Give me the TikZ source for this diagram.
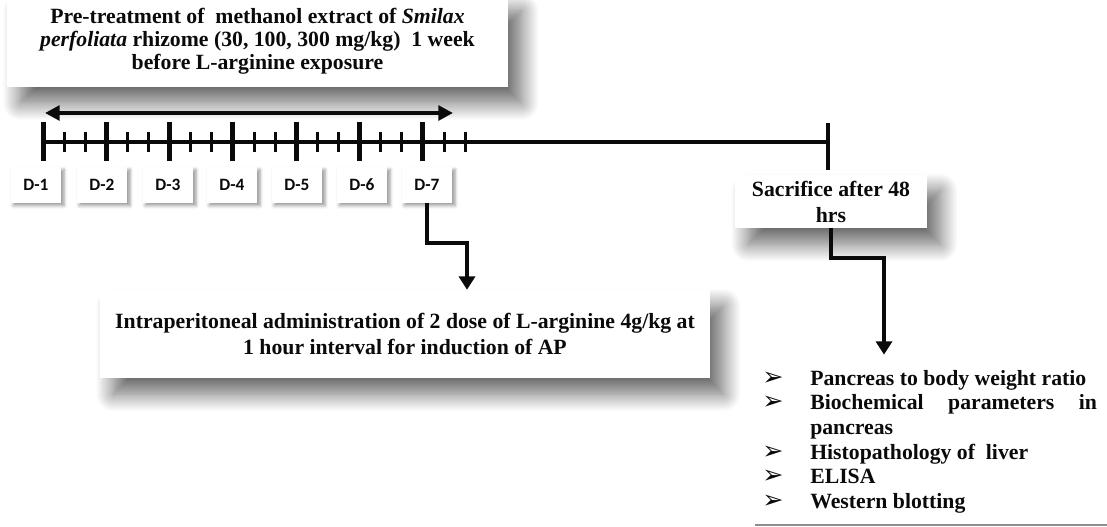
\documentclass[tikz,border=0pt]{standalone}
\usepackage{fontspec}
\setmainfont{Liberation Serif}
\newfontfamily\dayfont{Carlito}
\newfontfamily\symfont{DejaVu Sans}
\usetikzlibrary{arrows.meta,shadows.blur}
\definecolor{Ink}{HTML}{0A0A0A}
\definecolor{Rule}{HTML}{8E8E8E}
\newcommand{\tick}{{\symfont\fontsize{19}{18}\selectfont ➢}}
\begin{document}
\begin{tikzpicture}[x=0.75pt,y=-0.75pt,
    card/.style={fill=white,inner sep=0pt,align=center,text=Ink,font=\fontsize{16.3}{19.5}\selectfont\bfseries,
      blur shadow={shadow xshift=10pt,shadow yshift=-12pt,shadow blur radius=13pt,shadow opacity=60,shadow blur steps=20}},
    daybox/.style={fill=white,minimum width=38pt,minimum height=27pt,inner sep=0pt,text=Ink,font=\dayfont\fontsize{13}{15}\selectfont\bfseries,
      blur shadow={shadow xshift=2pt,shadow yshift=-2pt,shadow blur radius=2.5pt,shadow opacity=40}},
    major/.style={draw=Ink,line width=3.75pt},
    minor/.style={draw=Ink,line width=2.25pt},
    axis/.style={draw=Ink,line width=3pt},
    a/.style={draw=Ink,-{Triangle[length=10pt,width=12pt]},line width=3pt},
    aa/.style={draw=Ink,{Triangle[length=11pt,width=11pt]}-{Triangle[length=11pt,width=11pt]},line width=3pt}]
  \useasboundingbox (0,0) rectangle (1107,527);
  % pre-treatment card and week span
  \node[card,minimum width=376pt,minimum height=69pt,font=\fontsize{16.3}{17.2}\selectfont\bfseries] (pre) at (257.5,41)
    {Pre-treatment of \ methanol extract of \textit{Smilax}\\\textit{perfoliata} rhizome (30, 100, 300 mg/kg) \ 1 week\\before L-arginine exposure};
  \coordinate (wl) at (45,113);
  \coordinate (wr) at (453,113);
  \draw[aa] (wl) -- (wr);
  % timeline
  \coordinate (t0) at (43,142);
  \coordinate (tend) at (828,142);
  \draw[axis] (t0) -- (tend);
  \foreach \i in {0,...,6} {
    \draw[major] (43+63.33*\i,122) -- (43+63.33*\i,161);
    \draw[minor] (43+63.33*\i+21.1,132) -- ++(0,20);
    \draw[minor] (43+63.33*\i+42.2,132) -- ++(0,20);
  }
  \draw[axis] (828,123) -- (828,170);
  \foreach \d/\x in {1/36,2/102,3/168,4/232,5/297,6/362,7/427}
    \node[daybox] (d\d) at (\x,185) {D-\d};
  % outcomes
  \node[card,minimum width=457.5pt,minimum height=66pt] (intra) at (405,334)
    {Intraperitoneal administration of 2 dose of L-arginine 4g/kg at\\1 hour interval for induction of AP};
  \node[card,minimum width=144pt,minimum height=40pt] (sac) at (831,201.5) {Sacrifice after 48\\hrs};
  \node[anchor=north west,inner sep=0pt,text=Ink,font=\fontsize{16.3}{18.4}\selectfont\bfseries] (list) at (762,368) {%
    \begin{tabular}{@{}p{36pt}@{}p{215pt}@{}}
      \tick & Pancreas to body weight ratio\\
      \tick & Biochemical parameters in \mbox{pancreas}\\
      \tick & Histopathology of \ liver\\
      \tick & ELISA\\
      \tick & Western blotting
    \end{tabular}};
  \draw[draw=Rule,line width=1.5pt] (755,525) -- (1107,525);
  \coordinate (k7) at (467,243);
  \draw[a] (d7.south) |- (k7) -- (k7 |- intra.north);
  \coordinate (k8) at (884,258);
  \draw[a,shorten >=10pt] (sac.south) |- (k8) -- (k8 |- list.north);
\end{tikzpicture}
\end{document}
